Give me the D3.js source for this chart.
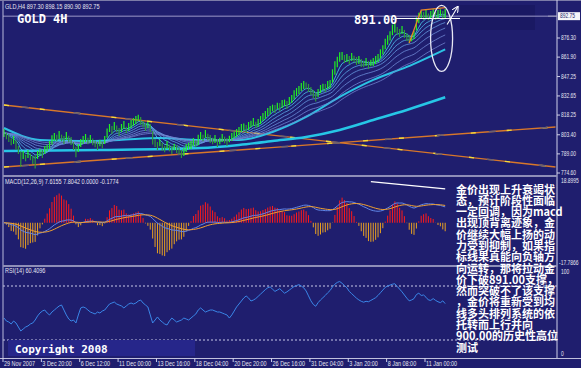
<!DOCTYPE html>
<html><head><meta charset="utf-8">
<script src="https://cdn.jsdelivr.net/npm/d3@7"></script>
<style>
html,body{margin:0;padding:0;background:#1f1e6e;overflow:hidden;}
svg{display:block;}
</style></head><body>
<svg id="c" width="581" height="368"></svg>
<script>
// ---------------- DATA ----------------
const headerText = "GLD,H4  897.30 898.15 890.90 892.75";
const dateLabels = ["29 Nov 2007","3 Dec 20:00","6 Dec 12:00","11 Dec 00:00","13 Dec 16:00","18 Dec 04:00","20 Dec 20:00","26 Dec 16:00","31 Dec 04:00","3 Jan 20:00","8 Jan 08:00","11 Jan 00:00"];
const dateBars = [0,16,32,48,64,80,96,112,128,144,160,176];
const priceTicks = [876.30, 861.90, 847.25, 832.65, 818.25, 803.40, 789.00, 774.60];
const bidPrice = 892.75;
const levelPrice = 891.00;
const lows = [
801.7,800.0,798.0,795.5,796.5,792.2,788.9,779.1,785.2,783.4,785.9,784.2,781.4,777.9,785.2,787.9,
785.9,788.9,790.9,792.7,796.0,798.7,798.5,800.2,798.5,796.5,799.5,797.7,795.7,791.9,786.4,790.4,
794.2,796.5,798.0,796.2,797.2,795.5,794.0,791.9,794.7,793.2,796.5,801.2,805.5,804.0,807.0,805.3,
802.5,805.5,807.8,804.5,806.3,808.5,810.0,811.5,813.5,810.8,809.0,806.3,808.3,805.5,796.0,794.2,
791.9,794.7,791.2,790.2,792.7,790.9,788.9,791.7,789.7,788.7,785.9,787.4,790.4,792.4,792.7,795.0,
794.0,795.5,799.5,798.5,801.0,799.2,797.2,796.2,797.2,794.2,796.2,798.0,797.0,795.0,797.7,798.7,
800.7,801.7,803.3,805.5,806.8,804.8,807.0,809.0,810.0,808.3,809.3,811.5,813.8,815.3,817.6,819.1,
821.1,819.8,822.6,821.3,823.6,824.9,822.8,825.9,827.4,829.9,832.6,834.1,836.4,837.9,837.7,835.7,
833.4,831.1,828.4,831.9,834.9,836.9,835.7,837.9,838.7,842.7,848.7,854.2,858.5,859.8,857.5,858.3,
856.8,859.0,858.0,856.0,856.8,854.5,854.2,855.2,853.0,855.0,855.2,856.8,858.3,860.8,863.8,867.8,
871.3,874.4,878.4,880.4,878.6,877.1,879.4,876.4,874.1,872.6,873.8,875.6,881.9,887.4,890.7,889.9,
891.4,889.7,890.7,892.2,889.9,891.4,892.9,890.7,890.90];
const highs = [
807.7,805.0,804.0,800.5,802.5,799.2,794.9,791.0,791.2,788.4,791.9,789.2,787.4,788.0,791.2,792.9,
791.9,794.9,795.9,798.7,803.0,804.7,803.5,806.2,803.5,802.5,805.5,802.7,801.7,797.9,794.4,796.4,
800.2,802.5,804.0,801.2,803.2,800.5,799.0,797.9,799.7,798.2,802.5,808.2,811.5,810.0,813.0,810.3,
808.5,811.5,813.8,809.5,812.3,814.5,816.0,817.5,818.5,816.8,814.0,812.3,813.3,811.5,806.0,800.2,
797.9,799.7,797.2,795.2,798.7,795.9,794.9,796.7,795.7,793.7,791.9,793.4,796.4,797.4,798.7,801.0,
799.0,803.5,805.5,803.5,807.0,804.2,803.2,801.2,803.2,800.2,801.2,804.0,802.0,801.0,802.7,804.7,
805.7,807.7,809.3,811.5,811.8,810.8,813.0,814.0,816.0,813.3,815.3,817.5,819.8,821.3,823.6,825.1,
826.1,825.8,827.6,827.3,829.6,829.9,828.8,831.9,833.4,836.9,838.6,840.1,842.4,843.9,842.7,841.7,
839.4,837.1,835.4,837.9,840.9,841.9,841.7,843.9,844.7,852.7,858.7,862.2,865.5,865.8,863.5,864.3,
862.8,865.0,863.0,862.0,862.8,860.5,859.2,861.2,859.0,860.0,861.2,862.8,864.3,867.8,870.8,875.8,
878.3,881.4,886.4,887.4,884.6,883.1,885.4,882.4,880.1,878.6,878.8,881.6,891.9,895.4,896.7,895.9,
897.4,894.7,896.7,898.2,895.9,897.4,897.9,896.7,898.15];
// thick moving averages: [bar, price]
const maMid = [[0,808.5],[15,799.5],[32,798.7],[48,799.5],[65,801.0],[82,799.5],[98,799.5],[112,805.5],[126,816.8],[140,831.9],[154,844.7],[168,854.5],[184,867.8]];
const maSlow = [[0,791.2],[40,791.9],[82,793.4],[98,795.7],[112,798.7],[126,801.7],[140,807.0],[154,814.5],[168,822.1],[184,831.6]];
const ribbonPeriods = [5, 9, 14, 20, 28, 38, 50];
// hand-drawn trend lines [bar0, price0, bar1, price1]
const trendLines = [[0, 825.8, 230, 779.1],[0, 779.1, 230, 809.3]];
const zigzag = [[169, 872.6],[174, 897.4],[184, 899.2]];
const macdParams = [12, 26, 9];
const macdRange = [-17.7866, 18.8995];
const macdLabel = "MACD(12,26,9) 7.6155 7.8042 0.0000 -0.1774";
const macdDivergence = [[153, 18.2],[184, 15.0]];
const rsiLabel = "RSI(14) 60.4096";
const rsiLevels = [20, 80];
const rsiValues = [
44.4,41.1,40.0,37.8,41.1,38.9,34.4,30.0,32.2,34.4,35.6,37.8,38.9,42.2,46.7,50.0,
52.2,53.3,50.0,47.8,51.1,53.3,55.6,57.8,58.9,53.3,47.8,43.3,41.1,42.2,38.9,47.8,
55.6,56.7,55.6,53.3,51.1,50.0,48.9,51.1,50.0,52.2,53.3,56.7,60.0,61.1,62.2,60.0,
58.9,57.8,55.6,57.8,60.0,61.1,60.0,61.1,63.3,64.4,61.1,58.9,56.7,47.8,38.9,42.2,
45.6,42.2,40.0,37.8,36.7,41.1,44.4,42.2,40.0,41.1,42.2,44.4,43.3,42.2,44.4,46.7,
48.9,53.3,55.6,53.3,51.1,52.2,53.3,53.3,52.2,51.1,51.1,50.0,48.9,47.8,44.4,47.8,
52.2,56.7,60.0,63.3,66.7,68.9,66.7,63.3,64.4,66.0,68.5,71.0,73.5,76.0,78.0,79.0,
76.5,74.0,75.5,77.0,74.5,72.0,73.5,75.5,77.5,79.5,80.5,81.5,80.0,78.0,74.5,69.0,
63.5,59.5,57.5,61.5,64.5,67.0,69.5,72.5,75.0,79.0,82.0,84.0,85.0,83.0,80.5,78.0,
74.0,71.5,69.0,66.5,64.5,63.0,62.0,63.0,62.5,64.0,65.5,67.0,69.5,72.5,75.5,78.5,
80.0,81.0,82.0,82.5,79.5,76.5,73.5,70.0,66.5,63.5,64.5,66.0,70.5,72.0,69.5,70.0,
67.5,64.5,64.0,66.0,64.0,62.5,61.5,63.5,60.4];
const note = ["金价出现上升衰竭状","态，预计阶段性面临","一定回调，因为macd","出现顶背离迹象，金","价继续大幅上扬的动","力受到抑制，如果指","标线果真能向负轴方","向运转，那将拉动金","价下破891.00支撑，","然而突破不了该支撑","，金价将重新受到均","线多头排列系统的依","托转而上行并向","900.00的历史性高位","测试"];

// ---------------- LAYOUT ----------------
const W = 581, H = 368;
const plotL = 3, plotR = 557;
const mainT = 4, mainB = 176;
const macdT = 177, macdB = 266;
const rsiT = 267, rsiB = 358;
const BG = "#1f1e6e";
const FS = "'Liberation Sans', Arial, sans-serif";
const MONO = "'DejaVu Sans Mono', 'Liberation Mono', monospace";

const svg = d3.select("#c");
svg.append("rect").attr("width", W).attr("height", H).attr("fill", BG);
const defs = svg.append("defs");
defs.append("clipPath").attr("id","clipMain").append("rect").attr("x",plotL).attr("y",mainT).attr("width",plotR-plotL).attr("height",mainB-mainT);
defs.append("clipPath").attr("id","clipMacd").append("rect").attr("x",plotL).attr("y",macdT).attr("width",plotR-plotL).attr("height",macdB-macdT);
defs.append("clipPath").attr("id","clipRsi").append("rect").attr("x",plotL).attr("y",rsiT).attr("width",plotR-plotL).attr("height",rsiB-rsiT);

const x = d3.scaleLinear().domain([0, 176]).range([4, 426]);
const y = d3.scaleLinear().domain([774.60, 876.30]).range([173, 38]);
const yM = d3.scaleLinear().domain(macdRange).range([263, 180]);
const yR = d3.scaleLinear().domain([0, 100]).range([358, 268]);

function smallText(g, tx, ty, str, size, sx, fill, anchorMid){
  return g.append("text").attr("transform", `translate(${tx},${ty}) scale(${sx},1)`)
    .attr("font-family", FS).attr("font-size", size).attr("fill", fill || "#e4e4f0")
    .attr("dominant-baseline", anchorMid ? "middle" : "auto").text(str);
}

const N = highs.length;
const mids = highs.map((h,i)=> (h + lows[i]) / 2);
function ema(arr, n){ const k = 2/(n+1); let e = arr[0]; return arr.map((v,i)=> i===0 ? e : (e = e + k*(v - e))); }

// ---------------- MAIN PANEL ----------------
const gMain = svg.append("g").attr("clip-path","url(#clipMain)");
gMain.append("rect").attr("x",460).attr("y",5).attr("width",75).attr("height",25).attr("fill","#1a1963");
gMain.append("line").attr("x1",plotL).attr("x2",plotR).attr("y1",y(bidPrice)).attr("y2",y(bidPrice))
  .attr("stroke","#9c98c8").attr("stroke-width",1);

trendLines.forEach(t=>{
  const a = [x(t[0]), y(t[1]), x(t[2]), y(t[3])];
  gMain.append("line").attr("x1",a[0]).attr("y1",a[1]).attr("x2",a[2]).attr("y2",a[3]).attr("stroke","#d8772a").attr("stroke-width",1.4);
  gMain.append("line").attr("x1",a[0]).attr("y1",a[1]).attr("x2",a[2]).attr("y2",a[3]).attr("stroke","#f5dc3c").attr("stroke-width",1.4).attr("stroke-dasharray","5 31");
  gMain.append("line").attr("x1",a[0]).attr("y1",a[1]).attr("x2",a[2]).attr("y2",a[3]).attr("stroke","#6b6070").attr("stroke-width",1.6).attr("stroke-dasharray","7 45").attr("stroke-dashoffset",-18);
});

const lineA = d3.line().x(d=>x(d[0])).y(d=>y(d[1])).curve(d3.curveMonotoneX);
gMain.append("path").attr("d", lineA(maSlow)).attr("fill","none").attr("stroke","#26c6e6").attr("stroke-width",2.6);
gMain.append("path").attr("d", lineA(maMid)).attr("fill","none").attr("stroke","#2cc2e4").attr("stroke-width",2.0);
const ribbonColors = ["#49d2ee","#4fb8ea","#5aa6e4","#6497de","#6a8cd8","#6f86d2","#7080cc"];
const lineI = d3.line().x((d,i)=>x(i)).y(d=>y(d));
ribbonPeriods.forEach((p,k)=>{
  gMain.append("path").attr("d", lineI(ema(mids, p))).attr("fill","none")
    .attr("stroke", ribbonColors[k]).attr("stroke-width", 0.9).attr("opacity",0.9);
});

gMain.append("g").selectAll("line").data(d3.range(N)).join("line")
  .attr("x1", i=>x(i)).attr("x2", i=>x(i))
  .attr("y1", i=>y(highs[i])).attr("y2", i=>y(lows[i]))
  .attr("stroke", i=> (i>0 && mids[i] < mids[i-1]) ? "#2f9a38" : "#22f022")
  .attr("stroke-width", 1.2);

gMain.append("path").attr("d", d3.line().x(d=>x(d[0])).y(d=>y(d[1]))(zigzag))
  .attr("fill","none").attr("stroke","#e8862a").attr("stroke-width",1.3);

gMain.append("line").attr("x1",396).attr("x2",460).attr("y1",y(levelPrice)).attr("y2",y(levelPrice))
  .attr("stroke","#ffffff").attr("stroke-width",1.2);

gMain.append("ellipse").attr("cx",x(182.5)).attr("cy",y(876.0)).attr("rx",11).attr("ry",33)
  .attr("fill","none").attr("stroke","#e8e8f4").attr("stroke-width",1.3);
defs.append("marker").attr("id","ah").attr("viewBox","0 0 10 10").attr("refX",9).attr("refY",5)
  .attr("markerWidth",6).attr("markerHeight",6).attr("orient","auto")
  .append("path").attr("d","M0,0 L10,5 L0,10").attr("fill","none").attr("stroke","#ffffff").attr("stroke-width",1.6);
gMain.append("line").attr("x1",x(184.8)).attr("y1",y(886.5)).attr("x2",x(189.3)).attr("y2",y(900.0))
  .attr("stroke","#ffffff").attr("stroke-width",1.1).attr("marker-end","url(#ah)");

svg.append("text").attr("x",17).attr("y",23).attr("font-family",MONO).attr("font-weight","bold")
  .attr("font-size",12).attr("fill","#ffffff").text("GOLD 4H");
svg.append("text").attr("x",354).attr("y",24).attr("font-family",MONO).attr("font-weight","bold")
  .attr("font-size",12).attr("fill","#ffffff").text(levelPrice.toFixed(2));
smallText(svg, 5, 9, headerText, 6.5, 0.86);

// ---------------- MACD PANEL ----------------
const e12 = ema(mids, macdParams[0]), e26 = ema(mids, macdParams[1]);
const macd = mids.map((v,i)=> e12[i] - e26[i]);
const sig = ema(macd, macdParams[2]);
const osma = macd.map((v,i)=> (v - sig[i]) * 6);
const gM = svg.append("g").attr("clip-path","url(#clipMacd)");
gM.append("g").selectAll("line").data(d3.range(N)).join("line")
  .attr("x1", i=>x(i)).attr("x2", i=>x(i))
  .attr("y1", yM(0)).attr("y2", i=>yM(osma[i]))
  .attr("stroke", i=> osma[i] >= 0 ? "#ff1a1a" : "#e8a020").attr("stroke-width", 1);
const lineM = d3.line().x((d,i)=>x(i)).y(d=>yM(d));
gM.append("path").attr("d", lineM(macd)).attr("fill","none").attr("stroke","#5f86e8").attr("stroke-width",1);
gM.append("path").attr("d", lineM(sig)).attr("fill","none").attr("stroke","#f0a030").attr("stroke-width",1);
gM.append("line").attr("x1",x(macdDivergence[0][0])).attr("y1",yM(macdDivergence[0][1]))
  .attr("x2",x(macdDivergence[1][0])).attr("y2",yM(macdDivergence[1][1])).attr("stroke","#ffffff").attr("stroke-width",1.2);
smallText(svg, 5, 184, macdLabel, 6.5, 0.85);

// ---------------- RSI PANEL ----------------
const gR = svg.append("g").attr("clip-path","url(#clipRsi)");
rsiLevels.forEach(v=>{
  gR.append("line").attr("x1",plotL).attr("x2",plotR).attr("y1",yR(v)).attr("y2",yR(v))
    .attr("stroke","#c8c8e8").attr("stroke-width",1).attr("stroke-dasharray","2 2");
});
gR.append("path").attr("d", d3.line().x((d,i)=>x(i)).y(d=>yR(d))(rsiValues))
  .attr("fill","none").attr("stroke","#3a86e8").attr("stroke-width",1);
smallText(svg, 5, 273, rsiLabel, 6.5, 0.85);

svg.append("rect").attr("x",8).attr("y",340).attr("width",187).attr("height",16).attr("fill","#26268a");
svg.append("text").attr("x",15).attr("y",353).attr("font-family",MONO).attr("font-weight","bold")
  .attr("font-size",11).attr("fill","#ffffff").text("Copyright 2008");

// ---------------- FRAMES & AXES ----------------
const frame = "#b8b8da";
svg.append("line").attr("x1",plotL).attr("x2",plotL).attr("y1",0).attr("y2",rsiB).attr("stroke",frame).attr("stroke-width",1);
svg.append("line").attr("x1",0).attr("x2",W).attr("y1",0.5).attr("y2",0.5).attr("stroke","#7c7ca8").attr("stroke-width",1);
svg.append("line").attr("x1",plotR).attr("x2",plotR).attr("y1",0).attr("y2",rsiB).attr("stroke","#d0d0ea").attr("stroke-width",1);
[mainB, macdB].forEach(v=> svg.append("line").attr("x1",plotL).attr("x2",plotR).attr("y1",v).attr("y2",v).attr("stroke","#8e8eb8").attr("stroke-width",2));
svg.append("line").attr("x1",0).attr("x2",W).attr("y1",rsiB+0.5).attr("y2",rsiB+0.5).attr("stroke","#c0c0dc").attr("stroke-width",1);

const gA = svg.append("g");
priceTicks.forEach(p=>{
  gA.append("line").attr("x1",plotR).attr("x2",plotR+3).attr("y1",y(p)).attr("y2",y(p)).attr("stroke","#d0d0ea");
  smallText(gA, 561, y(p)+0.5, p.toFixed(2), 6.5, 0.76, "#e4e4f0", true);
});
gA.append("line").attr("x1",plotR-9).attr("x2",plotR).attr("y1",y(bidPrice)).attr("y2",y(bidPrice)).attr("stroke","#9a9ab8");
gA.append("rect").attr("x",558).attr("y",y(bidPrice)-4).attr("width",22).attr("height",8).attr("fill","#f4f4f8");
smallText(gA, 560, y(bidPrice)+0.5, bidPrice.toFixed(2), 6.5, 0.76, "#1f1e6e", true);
smallText(gA, 561, 181, macdRange[1].toFixed(4), 6.5, 0.76, "#e4e4f0", true);
smallText(gA, 559, 263, macdRange[0].toFixed(4), 6.5, 0.76, "#e4e4f0", true);
smallText(gA, 561, 272, "100", 6.5, 0.76, "#e4e4f0", true);
smallText(gA, 561, 354, "0", 6.5, 0.76, "#e4e4f0", true);

dateBars.forEach((b,k)=>{
  const xx = x(b) - 1;
  svg.append("line").attr("x1",xx).attr("x2",xx).attr("y1",rsiB).attr("y2",rsiB+4).attr("stroke","#d0d0ea");
  smallText(svg, xx+1, 366, dateLabels[k], 6.5, 0.84);
});

// ---------------- NOTE ----------------
const gN = svg.append("g");
note.forEach((s,k)=>{
  gN.append("text").attr("x",456).attr("y",188.5 + k*11.29).attr("dominant-baseline","central")
    .attr("font-family","'Noto Sans CJK SC', sans-serif").attr("font-weight","bold")
    .attr("font-size",11).attr("fill","#ffffff").text(s);
});
</script>
</body></html>
